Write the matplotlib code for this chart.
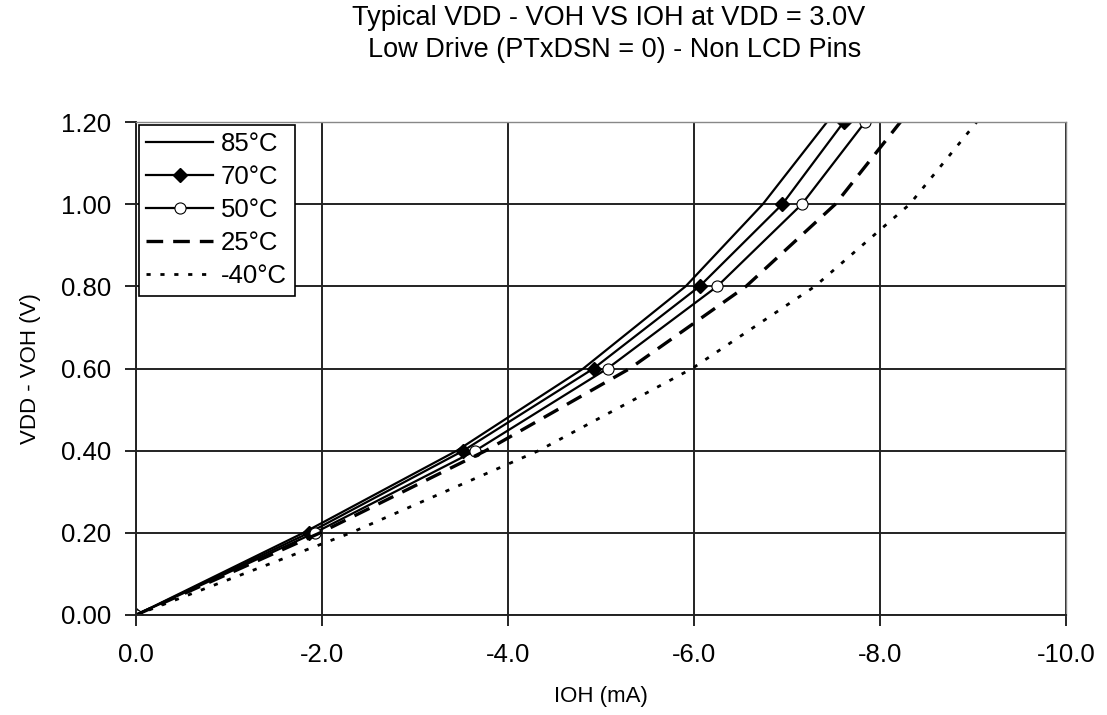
import matplotlib.pyplot as plt

plt.rcParams['font.family'] = ['Liberation Sans', 'DejaVu Sans']

# VDD - VOH (V) steps, IOH (mA, negative)
vdd_voh = [0.0, 0.2, 0.4, 0.6, 0.8, 1.0, 1.2]
ioh_85 = [0.0, -1.80, -3.45, -4.81, -5.91, -6.74, -7.43]
ioh_70 = [0.0, -1.86, -3.52, -4.92, -6.06, -6.95, -7.61]
ioh_50 = [0.0, -1.92, -3.65, -5.07, -6.25, -7.16, -7.84]
ioh_25 = [0.0, -1.98, -3.76, -5.31, -6.56, -7.52, -8.22]
ioh_m40 = [0.0, -2.31, -4.33, -5.98, -7.30, -8.32, -9.04]

x_ticks = [0, -2, -4, -6, -8, -10]
y_ticks = [0.0, 0.2, 0.4, 0.6, 0.8, 1.0, 1.2]

fig = plt.figure(figsize=(11.07, 7.15), dpi=100)
ax = fig.add_axes([136 / 1107, 100 / 715, 930 / 1107, 493 / 715])

ax.plot(ioh_85, vdd_voh, color='black', lw=1.6, label='85°C')
ax.plot(ioh_70, vdd_voh, color='black', lw=1.6, marker='D', ms=7,
        mfc='black', label='70°C')
ax.plot(ioh_50, vdd_voh, color='black', lw=1.6, marker='o', ms=8,
        mfc='white', mew=0.8, label='50°C')
ax.plot(ioh_25, vdd_voh, color='black', lw=2.4, dashes=(5, 3), label='25°C')
ax.plot(ioh_m40, vdd_voh, color='black', lw=2.0, dashes=(1.5, 3.5), label='-40°C')

ax.set_xlim(0, -10)
ax.set_ylim(0, 1.2)
ax.set_xticks(x_ticks)
ax.set_xticklabels(['%.1f' % v if v != 0 else '0.0' for v in x_ticks])
ax.set_yticks(y_ticks)
ax.set_yticklabels(['%.2f' % v for v in y_ticks])
ax.grid(True, color='#222222', lw=1.4)
ax.tick_params(labelsize=18.5, length=8, width=1.2, direction='out', pad=12)
ax.tick_params(axis='y', pad=10)
for side in ['top', 'right']:
    ax.spines[side].set_color('#888888')
    ax.spines[side].set_linewidth(1.0)
for side in ['left', 'bottom']:
    ax.spines[side].set_color('#222222')
    ax.spines[side].set_linewidth(1.4)

ax.set_xlabel('IOH (mA)', fontsize=16, labelpad=14)
ax.set_ylabel('VDD - VOH (V)', fontsize=16, labelpad=14)

leg = ax.legend(loc='upper left', fontsize=18.5, handlelength=2.6, borderaxespad=0.1,
                fancybox=False, framealpha=1, edgecolor='black',
                labelspacing=0.35, handletextpad=0.3, borderpad=0.3)
leg.get_frame().set_linewidth(1.2)

fig.text(609 / 1107, 1 - 18 / 715, 'Typical VDD - VOH VS IOH at VDD = 3.0V',
         ha='center', va='center', fontsize=19.5)
fig.text(615 / 1107, 1 - 50 / 715, 'Low Drive (PTxDSN = 0) - Non LCD Pins',
         ha='center', va='center', fontsize=19.5)

fig.savefig('out.png', dpi=100)
